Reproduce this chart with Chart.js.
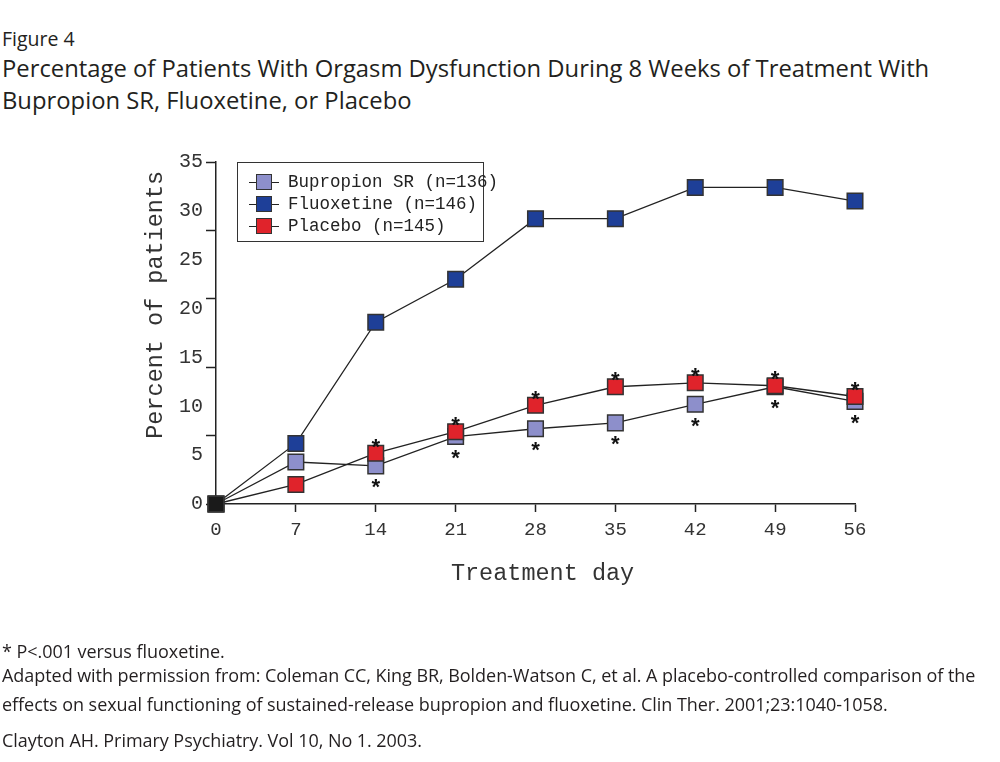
<!DOCTYPE html>
<html>
<head>
<meta charset="utf-8">
<title>Figure 4</title>
<script src="https://cdn.jsdelivr.net/npm/chart.js@4.4.1/dist/chart.umd.min.js"></script>
<style>
    html, body { margin: 0; padding: 0; background: #fff; }
    body {
        width: 1000px; height: 762px; position: relative; overflow: hidden;
        font-family: "Open Sans", "Noto Sans", sans-serif; color: #231f20;
    }
    .txt { position: absolute; left: 2px; white-space: nowrap; }
    .fig-label { top: 26px; font-size: 19.5px; line-height: 26px; }
    .fig-title { font-size: 23.8px; line-height: 32px; }
    .note { font-size: 18px; line-height: 24px; letter-spacing: -0.05px; }
    #chartBox { position: absolute; left: 0; top: 0; width: 1000px; height: 762px; }
    #legend {
        position: absolute; left: 237px; top: 162px; width: 245px; height: 70px;
        border: 1.5px solid #333; background: #fff; box-sizing: content-box;
        font-family: "Liberation Mono", monospace; font-size: 17.5px; color: #222;
        padding-top: 8px;
    }
    .legend-row { position: relative; height: 22px; line-height: 22px; padding-left: 50px; white-space: nowrap; }
    .key-line { position: absolute; left: 11px; top: 10.5px; width: 30px; height: 1.5px; background: #222; }
    .key-box { position: absolute; left: 18px; top: 3px; width: 14px; height: 14px; border: 1.5px solid #333; }
</style>
</head>
<body>

<div class="txt fig-label">Figure 4</div>
<div class="txt fig-title" style="top:52px">Percentage of Patients With Orgasm Dysfunction During 8 Weeks of Treatment With</div>
<div class="txt fig-title" style="top:84px">Bupropion SR, Fluoxetine, or Placebo</div>

<div id="chartBox"><canvas id="orgasmChart"></canvas></div>
<div id="legend"></div>

<div class="txt note" style="top:639px">* P&lt;.001 versus fluoxetine.</div>
<div class="txt note" style="top:663px">Adapted with permission from: Coleman CC, King BR, Bolden-Watson C, et al. A placebo-controlled comparison of the</div>
<div class="txt note" style="top:692px">effects on sexual functioning of sustained-release bupropion and fluoxetine. Clin Ther. 2001;23:1040-1058.</div>
<div class="txt note" style="top:728px">Clayton AH. Primary Psychiatry. Vol 10, No 1. 2003.</div>

<script>
// ==================== DATA ====================

const treatmentDays = [0, 7, 14, 21, 28, 35, 42, 49, 56];

const bupropionValues  = [0, 4.3, 3.9, 6.9, 7.7, 8.3, 10.2, 12.0, 10.5];
const fluoxetineValues = [0, 6.2, 18.6, 23.0, 29.2, 29.2, 32.4, 32.4, 31.0];
const placeboValues    = [0, 2.0, 5.2, 7.4, 10.1, 12.0, 12.4, 12.1, 11.0];

const seriesNames  = ['Bupropion SR (n=136)', 'Fluoxetine (n=146)', 'Placebo (n=145)'];
const seriesColors = ['#8d8fcb', '#1e3f98', '#e0232b'];

// y labels every 5, but the tick marks sit every 7 in the original
const yLabelValues    = [0, 5, 10, 15, 20, 25, 30, 35];
const yTickMarkValues = [0, 7, 14, 21, 28, 35];

// days flagged with * (P<.001 versus fluoxetine)
const placeboStarDays   = [14, 21, 28, 35, 42, 49, 56];
const bupropionStarDays = [14, 21, 28, 35, 42, 49, 56];

// ==================== HELPERS ====================

const monoFont = '"Liberation Mono", "Courier New", monospace';

function pointsFor(values) {
    return treatmentDays.map((d, i) => ({ x: d, y: values[i] }));
}

function markerFill(color) {
    // day 0 marker is drawn black in the original
    return treatmentDays.map(d => d === 0 ? '#1a1a1a' : color);
}

function makeDataset(label, values, color, order) {
    return {
        label: label,
        data: pointsFor(values),
        borderColor: '#222',
        borderWidth: 1.3,
        pointStyle: 'rect',
        pointRadius: 11,
        pointHoverRadius: 11,
        pointBackgroundColor: markerFill(color),
        pointBorderColor: '#333',
        pointBorderWidth: 1.5,
        tension: 0,
        clip: false,
        order: order
    };
}

// ==================== ASTERISKS ====================

const starPlugin = {
    id: 'stars',
    afterDatasetsDraw(chart) {
        const ctx = chart.ctx;
        const xs = chart.scales.x;
        const ys = chart.scales.y;
        const size = 22;
        ctx.save();
        ctx.font = 'bold ' + size + 'px ' + monoFont;
        ctx.fillStyle = '#111';
        ctx.textAlign = 'center';
        ctx.textBaseline = 'alphabetic';

        const groups = [
            { days: placeboStarDays, values: placeboValues, shift: -9 },
            { days: bupropionStarDays, values: bupropionValues, shift: 19 }
        ];
        groups.forEach(g => {
            g.days.forEach(day => {
                const idx = treatmentDays.indexOf(day);
                const px = xs.getPixelForValue(day);
                const py = ys.getPixelForValue(g.values[idx]) + g.shift;
                // glyph centre sits about half an em above the baseline
                ctx.fillText('*', px, py + size * 0.48);
            });
        });
        ctx.restore();
    }
};

// ==================== LEGEND ====================

function buildLegend() {
    const legendEl = document.getElementById('legend');
    seriesNames.forEach((name, i) => {
        const row = document.createElement('div');
        row.className = 'legend-row';
        row.innerHTML = '<span class="key-line"></span>' +
            '<span class="key-box" style="background:' + seriesColors[i] + '"></span>' + name;
        legendEl.appendChild(row);
    });
}

// ==================== CHART ====================

function createChart() {
    const ctx = document.getElementById('orgasmChart').getContext('2d');

    new Chart(ctx, {
        type: 'line',
        data: {
            datasets: [
                makeDataset(seriesNames[0], bupropionValues, seriesColors[0], 1),
                makeDataset(seriesNames[1], fluoxetineValues, seriesColors[1], 2),
                makeDataset(seriesNames[2], placeboValues, seriesColors[2], 0)
            ]
        },
        options: {
            responsive: true,
            maintainAspectRatio: false,
            animation: false,
            layout: {
                padding: { left: 130, top: 162, right: 145, bottom: 168 }
            },
            plugins: {
                legend: { display: false },
                tooltip: { enabled: false },
                title: { display: false }
            },
            scales: {
                x: {
                    type: 'linear',
                    min: 0,
                    max: 56,
                    afterFit(scale) { scale.height = 90; },
                    ticks: {
                        stepSize: 7,
                        color: '#333',
                        font: { family: monoFont, size: 19 },
                        padding: 7
                    },
                    grid: {
                        drawOnChartArea: false,
                        drawTicks: true,
                        tickLength: 8,
                        tickColor: '#222',
                        tickWidth: 1.5
                    },
                    border: { display: true, color: '#222', width: 1.5 },
                    title: {
                        display: true,
                        text: ' Treatment day',
                        color: '#333',
                        font: { family: monoFont, size: 23.5 },
                        padding: { top: 0, bottom: 6 }
                    }
                },
                y: {
                    type: 'linear',
                    min: 0,
                    max: 35,
                    afterFit(scale) { scale.width = 86; },
                    afterBuildTicks(scale) {
                        const all = Array.from(new Set(yLabelValues.concat(yTickMarkValues))).sort((a, b) => a - b);
                        scale.ticks = all.map(v => ({ value: v }));
                    },
                    ticks: {
                        autoSkip: false,
                        color: '#333',
                        font: { family: monoFont, size: 20 },
                        padding: 3,
                        callback: (value) => yLabelValues.includes(value) ? String(value) : ''
                    },
                    grid: {
                        drawOnChartArea: false,
                        drawTicks: true,
                        tickLength: 10,
                        tickWidth: 1.5,
                        tickColor: (c) => (c.tick && yTickMarkValues.includes(c.tick.value)) ? '#222' : 'rgba(0,0,0,0)'
                    },
                    border: { display: true, color: '#222', width: 1.5 },
                    title: {
                        display: true,
                        text: '    Percent of patients',
                        color: '#333',
                        font: { family: monoFont, size: 23.5 },
                        padding: { top: 12, bottom: 0 }
                    }
                }
            }
        },
        plugins: [starPlugin]
    });
}

buildLegend();
createChart();
</script>
</body>
</html>
